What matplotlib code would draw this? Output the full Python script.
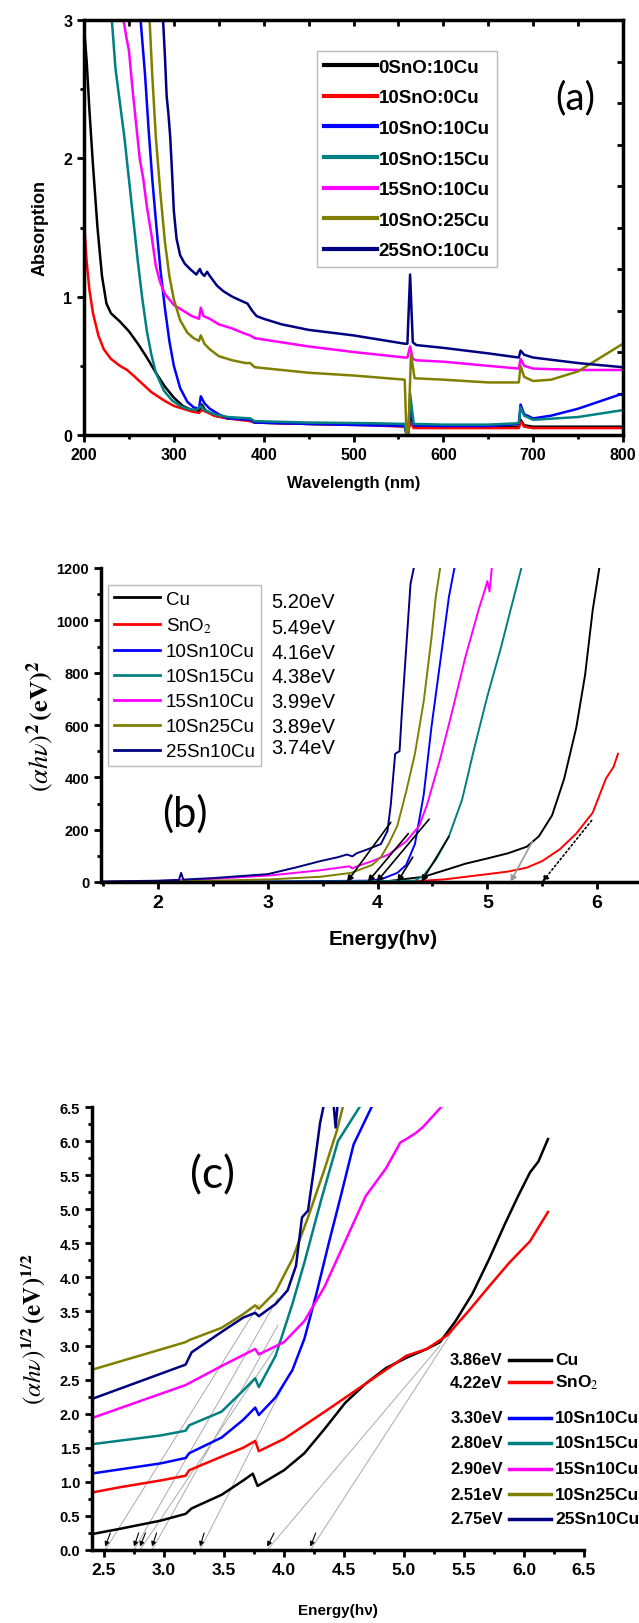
import numpy as np
import matplotlib
matplotlib.use("Agg")
import matplotlib.pyplot as plt
from matplotlib.ticker import MultipleLocator

plt.rcParams['font.family'] = ['Liberation Sans', 'DejaVu Sans']
plt.rcParams['mathtext.fontset'] = 'stix'

COLORS = ['black', '#ff0000', '#0000ff', '#008080', '#ff00ff', '#808000', '#000080']

# ---------------- panel (a): absorption spectra ----------------
labels_a = ['0SnO:10Cu', '10SnO:0Cu', '10SnO:10Cu', '10SnO:15Cu',
            '15SnO:10Cu', '10SnO:25Cu', '25SnO:10Cu']

wl_black = [200, 203, 206, 210, 215, 220, 225, 230, 240, 250, 260, 270, 280, 290, 300, 310,
            320, 328, 331, 335, 345, 360, 385, 390, 450, 520, 557, 559, 561, 563, 567, 600,
            684, 686, 690, 700, 750, 800]
abs_black = [2.95, 2.7, 2.35, 1.95, 1.5, 1.15, 0.95, 0.88, 0.82, 0.75, 0.66, 0.56, 0.45, 0.35,
             0.27, 0.21, 0.18, 0.17, 0.22, 0.18, 0.14, 0.12, 0.11, 0.09, 0.08, 0.075, 0.07,
             0.02, 0.02, 0.12, 0.06, 0.06, 0.06, 0.11, 0.07, 0.06, 0.06, 0.06]

wl_red = [200, 203, 206, 210, 216, 222, 230, 240, 248, 255, 265, 275, 289, 300, 310, 320, 328,
          331, 335, 345, 360, 385, 390, 450, 520, 557, 559, 561, 563, 567, 600, 684, 686, 690,
          700, 750, 800]
abs_red = [1.55, 1.25, 1.05, 0.88, 0.72, 0.62, 0.55, 0.5, 0.47, 0.43, 0.37, 0.31, 0.25, 0.21,
           0.19, 0.17, 0.16, 0.18, 0.17, 0.14, 0.12, 0.10, 0.09, 0.08, 0.07, 0.06, 0.02, 0.02,
           0.10, 0.05, 0.05, 0.05, 0.10, 0.06, 0.05, 0.05, 0.05]

wl_blue = [263, 268, 272, 276, 280, 285, 290, 295, 300, 307, 315, 322, 328, 330, 334, 340, 350,
           360, 385, 390, 450, 520, 557, 559, 561, 563, 567, 600, 650, 684, 686, 690, 700, 720,
           750, 800]
abs_blue = [3.0, 2.6, 2.2, 1.85, 1.55, 1.2, 0.92, 0.68, 0.5, 0.34, 0.24, 0.2, 0.19, 0.28, 0.23,
            0.19, 0.15, 0.12, 0.11, 0.09, 0.08, 0.07, 0.065, 0.0, 0.0, 0.2, 0.07, 0.065, 0.065,
            0.08, 0.22, 0.15, 0.12, 0.14, 0.19, 0.30]

wl_teal = [231, 235, 240, 245, 250, 255, 260, 265, 270, 275, 280, 289, 298, 307, 315, 325, 330,
           334, 345, 360, 385, 390, 450, 520, 557, 559, 561, 563, 567, 600, 650, 684, 686, 690,
           700, 750, 800]
abs_teal = [3.0, 2.65, 2.4, 2.15, 1.85, 1.55, 1.25, 0.98, 0.75, 0.58, 0.45, 0.32, 0.25, 0.21,
            0.19, 0.18, 0.21, 0.18, 0.15, 0.13, 0.12, 0.1, 0.09, 0.085, 0.08, 0.0, 0.0, 0.3,
            0.08, 0.075, 0.075, 0.085, 0.2, 0.14, 0.11, 0.13, 0.18]

wl_mag = [244, 247, 250, 254, 258, 262, 266, 270, 275, 280, 285, 290, 300, 310, 320, 328, 330,
          333, 340, 350, 365, 380, 385, 390, 420, 450, 500, 557, 560, 563, 566, 570, 600, 650,
          684, 686, 690, 700, 750, 800]
abs_mag = [3.0, 2.88, 2.78, 2.5, 2.25, 2.0, 1.85, 1.65, 1.45, 1.22, 1.1, 1.02, 0.94, 0.9, 0.86,
           0.84, 0.92, 0.86, 0.84, 0.8, 0.77, 0.73, 0.72, 0.7, 0.67, 0.64, 0.6, 0.56, 0.56,
           0.64, 0.55, 0.54, 0.53, 0.5, 0.48, 0.55, 0.5, 0.48, 0.47, 0.47]

wl_olive = [273, 276, 280, 285, 290, 295, 300, 307, 315, 322, 328, 330, 334, 340, 350, 365, 380,
            385, 390, 420, 450, 500, 557, 559, 561, 564, 568, 600, 650, 684, 686, 690, 700, 720,
            750, 800]
abs_olive = [3.0, 2.6, 2.15, 1.75, 1.4, 1.15, 0.98, 0.83, 0.74, 0.7, 0.68, 0.72, 0.66, 0.62,
             0.57, 0.54, 0.52, 0.52, 0.49, 0.47, 0.45, 0.43, 0.4, 0.0, 0.0, 0.58, 0.41, 0.4,
             0.38, 0.38, 0.5, 0.42, 0.39, 0.4, 0.46, 0.66]

wl_navy = [288, 290, 292, 294, 296, 298, 300, 303, 307, 312, 318, 325, 329, 331, 334, 337, 340,
           348, 355, 365, 375, 382, 387, 392, 400, 420, 450, 500, 557, 560, 563, 566, 570, 600,
           650, 684, 686, 690, 700, 750, 800]
abs_navy = [3.0, 2.75, 2.45, 2.32, 2.15, 1.9, 1.62, 1.42, 1.3, 1.24, 1.2, 1.16, 1.2, 1.17, 1.15,
            1.18, 1.15, 1.08, 1.04, 1.0, 0.97, 0.95, 0.9, 0.86, 0.84, 0.8, 0.76, 0.72, 0.66,
            0.66, 1.16, 0.67, 0.65, 0.63, 0.59, 0.56, 0.61, 0.58, 0.56, 0.52, 0.49]

# ---------------- panel (b): (alpha h nu)^2 ----------------
labels_b = ['Cu', 'SnO$_2$', '10Sn10Cu', '10Sn15Cu', '15Sn10Cu', '10Sn25Cu', '25Sn10Cu']
gaps_b = ['5.20eV', '5.49eV', '4.16eV', '4.38eV', '3.99eV', '3.89eV', '3.74eV']

E_black_b = [1.5, 4.03, 4.42, 4.65, 4.80, 5.00, 5.19, 5.36, 5.47, 5.59, 5.70, 5.81, 5.89, 5.96, 6.02]
v_black_b = [0, 0, 20, 50, 70, 90, 110, 135, 175, 255, 395, 590, 790, 1040, 1200]
E_red_b = [1.5, 4.22, 4.61, 5.00, 5.19, 5.36, 5.50, 5.66, 5.81, 5.96, 6.08, 6.15, 6.19]
v_red_b = [0, 0, 10, 30, 40, 55, 80, 125, 185, 265, 395, 440, 490]
E_blue_b = [1.5, 3.0, 3.9, 4.03, 4.18, 4.26, 4.34, 4.42, 4.49, 4.57, 4.65, 4.70]
v_blue_b = [0, 2, 5, 10, 35, 65, 145, 333, 590, 840, 1090, 1200]
E_teal_b = [1.5, 3.5, 4.34, 4.42, 4.53, 4.65, 4.77, 4.88, 5.00, 5.12, 5.23, 5.31]
v_teal_b = [0, 2, 5, 25, 85, 175, 315, 510, 710, 890, 1070, 1200]
E_mag_b = [1.5, 2.0, 2.5, 3.02, 3.48, 3.74, 3.77, 3.80, 3.95, 4.10, 4.26, 4.38, 4.45, 4.57,
           4.69, 4.80, 4.92, 4.98, 5.00, 5.02, 5.04]
v_mag_b = [1, 4, 12, 25, 45, 60, 52, 58, 80, 105, 155, 215, 295, 470, 670, 860, 1040, 1120,
           1150, 1110, 1200]
E_olive_b = [1.5, 2.0, 2.5, 3.02, 3.48, 3.76, 3.95, 4.03, 4.10, 4.18, 4.26, 4.34, 4.42, 4.49, 4.53, 4.57]
v_olive_b = [0, 2, 5, 10, 20, 35, 65, 95, 145, 215, 345, 490, 690, 930, 1090, 1200]
E_navy_b = [1.5, 2.0, 2.19, 2.21, 2.23, 2.5, 3.0, 3.25, 3.48, 3.64, 3.72, 3.77, 3.81, 3.91,
            4.03, 4.09, 4.12, 4.16, 4.20, 4.22, 4.26, 4.30, 4.33]
v_navy_b = [2, 5, 8, 35, 9, 15, 30, 55, 80, 95, 105, 98, 110, 125, 145, 195, 295, 490, 500,
            640, 890, 1140, 1200]

# linear-fit guide lines of panel (b): intercept and upper end
fit_b_x0 = [3.72, 3.91, 3.99, 4.18, 4.40, 5.21, 5.50]
fit_b_x1 = [4.12, 4.28, 4.47, 4.32, 4.65, 5.41, 5.95]
fit_b_y1 = [228, 185, 240, 95, 174, 155, 235]
fit_b_col = ['black', 'black', 'black', 'black', 'black', '#999999', 'black']
fit_b_ls = ['-', '-', '-', '-', '-', '-', ':']

# ---------------- panel (c): (alpha h nu)^1/2 ----------------
gaps_c = ['3.86eV', '4.22eV', '3.30eV', '2.80eV', '2.90eV', '2.51eV', '2.75eV']

E_black_c = [2.39, 2.63, 2.97, 3.18, 3.23, 3.48, 3.66, 3.74, 3.78, 4.0, 4.17, 4.34, 4.51, 4.68,
             4.85, 5.02, 5.19, 5.30, 5.43, 5.57, 5.71, 5.84, 5.95, 6.05, 6.12, 6.20]
v_black_c = [0.23, 0.31, 0.43, 0.53, 0.61, 0.81, 1.02, 1.12, 0.94, 1.17, 1.42, 1.78, 2.16, 2.44,
             2.67, 2.82, 2.95, 3.05, 3.36, 3.76, 4.27, 4.78, 5.19, 5.54, 5.70, 6.03]
E_red_c = [2.39, 2.63, 2.97, 3.18, 3.21, 3.48, 3.66, 3.76, 3.79, 4.0, 4.34, 4.68, 5.02, 5.19,
           5.36, 5.54, 5.71, 5.88, 6.05, 6.20]
v_red_c = [0.84, 0.92, 1.02, 1.09, 1.17, 1.37, 1.5, 1.6, 1.45, 1.63, 2.03, 2.44, 2.85, 2.95,
           3.15, 3.51, 3.87, 4.22, 4.53, 4.96]
E_blue_c = [2.39, 2.97, 3.18, 3.21, 3.48, 3.66, 3.76, 3.79, 3.93, 4.07, 4.17, 4.27, 4.37, 4.48,
            4.58, 4.73]
v_blue_c = [1.12, 1.27, 1.35, 1.42, 1.65, 1.91, 2.09, 1.98, 2.24, 2.64, 3.10, 3.76, 4.48, 5.24,
            5.95, 6.5]
E_teal_c = [2.39, 2.97, 3.18, 3.21, 3.48, 3.66, 3.76, 3.79, 3.93, 4.07, 4.17, 4.31, 4.45, 4.63]
v_teal_c = [1.55, 1.68, 1.75, 1.83, 2.03, 2.34, 2.52, 2.39, 2.85, 3.61, 4.22, 5.14, 6.0, 6.5]
E_mag_c = [2.39, 3.18, 3.48, 3.76, 3.79, 4.0, 4.17, 4.34, 4.51, 4.68, 4.85, 4.97, 5.02, 5.10,
           5.16, 5.31]
v_mag_c = [1.93, 2.42, 2.70, 2.95, 2.87, 3.05, 3.36, 3.87, 4.53, 5.19, 5.60, 5.98, 6.03, 6.12,
           6.21, 6.5]
E_olive_c = [2.39, 3.18, 3.21, 3.48, 3.66, 3.76, 3.79, 3.93, 4.07, 4.20, 4.34, 4.44, 4.49]
v_olive_c = [2.64, 3.05, 3.08, 3.26, 3.46, 3.59, 3.54, 3.79, 4.27, 4.88, 5.60, 6.15, 6.5]
E_navy_c = [2.39, 3.18, 3.23, 3.48, 3.66, 3.76, 3.79, 3.93, 4.03, 4.10, 4.15, 4.20, 4.25, 4.30,
            4.34, 4.40, 4.43, 4.46]
v_navy_c = [2.21, 2.72, 2.90, 3.20, 3.41, 3.48, 3.43, 3.61, 3.81, 4.17, 4.88, 4.98, 5.60, 6.26,
            6.6, 6.8, 6.2, 6.8]

fit_c_x0 = [3.86, 4.22, 3.30, 2.80, 2.90, 2.51, 2.75]
fit_c_x1 = [5.30, 5.40, 4.05, 3.98, 3.95, 3.79, 3.95]
fit_c_y1 = [3.0, 3.2, 2.6, 3.1, 3.3, 3.6, 3.7]

# ---------------- figure ----------------
fig = plt.figure(figsize=(6.39, 16.24), dpi=100)
W, H = 639, 1624


def add_ax(l, r, t, b):
    return fig.add_axes([l / W, 1 - b / H, (r - l) / W, (b - t) / H])


# ---- (a)
ax = add_ax(84, 623, 21, 436)
series_a = [(wl_black, abs_black), (wl_red, abs_red), (wl_blue, abs_blue), (wl_teal, abs_teal),
            (wl_mag, abs_mag), (wl_olive, abs_olive), (wl_navy, abs_navy)]
for (x, y), c, lab in zip(series_a, COLORS, labels_a):
    ax.plot(x, y, color=c, lw=1.8, label=lab)
ax.set_xlim(200, 800)
ax.set_ylim(0, 3)
ax.xaxis.set_major_locator(MultipleLocator(100))
ax.xaxis.set_minor_locator(MultipleLocator(50))
ax.yaxis.set_major_locator(MultipleLocator(1))
ax.yaxis.set_minor_locator(MultipleLocator(0.5))
ax.tick_params(which='major', direction='out', length=5, width=2, labelsize=11.5)
ax.tick_params(which='minor', direction='out', length=3, width=2)
for lab in ax.get_xticklabels() + ax.get_yticklabels():
    lab.set_fontweight('bold')
for s in ax.spines.values():
    s.set_linewidth(2.5)
secx = ax.secondary_xaxis('top')
secx.xaxis.set_major_locator(MultipleLocator(50))
secx.tick_params(direction='in', length=4, width=2, labeltop=False)
secy = ax.secondary_yaxis('right')
secy.yaxis.set_major_locator(MultipleLocator(0.3))
secy.tick_params(direction='in', length=4, width=2, labelright=False)
ax.set_xlabel('Wavelength (nm)', fontsize=12, fontweight='bold')
ax.set_ylabel('Absorption', fontsize=13, fontweight='bold')
ax.yaxis.set_label_coords(-0.066, 0.5)
ax.xaxis.set_label_coords(0.5, -0.097)
leg = ax.legend(loc='upper left', bbox_to_anchor=(0.432, 0.925),
                prop={'weight': 'bold', 'size': 13.5}, handlelength=2.8, handletextpad=0.1,
                labelspacing=0.72, borderpad=0.4, borderaxespad=0, fancybox=False,
                framealpha=1)
leg.get_frame().set_edgecolor('#bbbbbb')
leg.get_frame().set_linewidth(1)
for h in leg.get_lines():
    h.set_linewidth(3)
ax.text(747, 2.44, '(a)', fontsize=28, family=['Lato', 'DejaVu Sans'], ha='center', va='center')

# ---- (b)  (axis runs past the right edge of the picture, as in the original crop)
ax = add_ax(101, 652, 569, 883)
series_b = [(E_black_b, v_black_b), (E_red_b, v_red_b), (E_blue_b, v_blue_b),
            (E_teal_b, v_teal_b), (E_mag_b, v_mag_b), (E_olive_b, v_olive_b),
            (E_navy_b, v_navy_b)]
for (x, y), c, lab in zip(series_b, COLORS, labels_b):
    ax.plot(x, y, color=c, lw=1.4, label=lab)
for x0, x1, y1, c, ls in zip(fit_b_x0, fit_b_x1, fit_b_y1, fit_b_col, fit_b_ls):
    ax.annotate('', xy=(x0, 0), xytext=(x1, y1),
                arrowprops=dict(arrowstyle='-|>', color=c, lw=1.2, ls=ls,
                                mutation_scale=9, shrinkA=0, shrinkB=0))
ax.set_xlim(1.48, 6.5)
ax.set_ylim(0, 1200)
ax.spines['top'].set_visible(False)
ax.spines['right'].set_visible(False)
ax.spines['left'].set_linewidth(2.5)
ax.spines['bottom'].set_linewidth(2.5)
ax.xaxis.set_major_locator(MultipleLocator(1))
ax.xaxis.set_minor_locator(MultipleLocator(0.5))
ax.yaxis.set_major_locator(MultipleLocator(200))
ax.yaxis.set_minor_locator(MultipleLocator(100))
ax.tick_params(which='major', direction='out', length=5, width=2)
ax.tick_params(which='minor', direction='out', length=3, width=2)
ax.tick_params(axis='x', labelsize=14)
ax.tick_params(axis='y', labelsize=10.5)
for lab in ax.get_xticklabels() + ax.get_yticklabels():
    lab.set_fontweight('bold')
ax.set_xlabel('Energy(h\u03bd)', fontsize=15, fontweight='bold')
ax.xaxis.set_label_coords(0.512, -0.15)
ax.set_ylabel(r'$(\alpha h\nu)^{\mathbf{2}}\,\mathbf{(eV)^{2}}$', fontsize=19)
ax.yaxis.set_label_coords(-0.082, 0.5)
leg = ax.legend(loc='upper left', bbox_to_anchor=(0.0127, 0.946), fontsize=13.5,
                handlelength=2.5, handletextpad=0.3, labelspacing=0.42, borderpad=0.3,
                borderaxespad=0, fancybox=False, framealpha=1)
leg.get_frame().set_edgecolor('#bbbbbb')
leg.get_frame().set_linewidth(1)
for h in leg.get_lines():
    h.set_linewidth(2)
gap_y_b = [0.892, 0.812, 0.732, 0.653, 0.576, 0.494, 0.427]
for txt, yy in zip(gaps_b, gap_y_b):
    ax.text(0.309, yy, txt, transform=ax.transAxes, fontsize=14.5, va='center', ha='left')
ax.text(2.24, 265, '(b)', fontsize=30, family=['Lato', 'DejaVu Sans'], ha='center', va='center')

# ---- (c)
ax = add_ax(92, 584, 1108, 1551)
series_c = [(E_black_c, v_black_c), (E_red_c, v_red_c), (E_blue_c, v_blue_c),
            (E_teal_c, v_teal_c), (E_mag_c, v_mag_c), (E_olive_c, v_olive_c),
            (E_navy_c, v_navy_c)]
for x0, x1, y1 in zip(fit_c_x0, fit_c_x1, fit_c_y1):
    ax.plot([x0, x1], [0, y1], color='#aaaaaa', lw=0.7)
    ax.annotate('', xy=(x0, 0.05), xytext=(x0 + 0.03 * (x1 - x0) / y1 * 4, 0.25),
                arrowprops=dict(arrowstyle='-|>', color='black', lw=0.8,
                                mutation_scale=7, shrinkA=0, shrinkB=0))
for (x, y), c in zip(series_c, COLORS):
    ax.plot(x, y, color=c, lw=1.8)
ax.set_xlim(2.4, 6.5)
ax.set_ylim(0, 6.5)
ax.spines['top'].set_visible(False)
ax.spines['right'].set_visible(False)
ax.spines['left'].set_linewidth(2.5)
ax.spines['bottom'].set_linewidth(2.5)
ax.xaxis.set_major_locator(MultipleLocator(0.5))
ax.xaxis.set_minor_locator(MultipleLocator(0.25))
ax.yaxis.set_major_locator(MultipleLocator(0.5))
ax.yaxis.set_minor_locator(MultipleLocator(0.25))
ax.xaxis.set_major_formatter('{x:.1f}')
ax.yaxis.set_major_formatter('{x:.1f}')
ax.tick_params(which='major', direction='out', length=5, width=2)
ax.tick_params(which='minor', direction='out', length=3, width=2)
ax.tick_params(axis='x', labelsize=12.5)
ax.tick_params(axis='y', labelsize=10.5)
for lab in ax.get_xticklabels() + ax.get_yticklabels():
    lab.set_fontweight('bold')
ax.set_xlabel('Energy(h\u03bd)', fontsize=11, fontweight='bold')
ax.xaxis.set_label_coords(0.5, -0.12)
ax.set_ylabel(r'$(\alpha h\nu)^{\mathbf{1/2}}\,\mathbf{(eV)}^{\mathbf{1/2}}$', fontsize=18)
ax.yaxis.set_label_coords(-0.09, 0.5)
leg_rows_c = [0.429, 0.379, 0.298, 0.242, 0.183, 0.126, 0.070]
for lab, txt, yy, c in zip(labels_b, gaps_c, leg_rows_c, COLORS):
    ax.plot([0.848, 0.933], [yy, yy], color=c, lw=2.5, transform=ax.transAxes, clip_on=False)
    ax.text(0.941, yy, lab, transform=ax.transAxes, fontsize=12.5, fontweight='bold',
            va='center', ha='left', clip_on=False)
    ax.text(0.835, yy, txt, transform=ax.transAxes, fontsize=12, fontweight='bold',
            va='center', ha='right')
ax.text(3.4, 5.5, '(c)', fontsize=32, family=['Lato', 'DejaVu Sans'], ha='center', va='center')

fig.savefig('out.png', dpi=100)
